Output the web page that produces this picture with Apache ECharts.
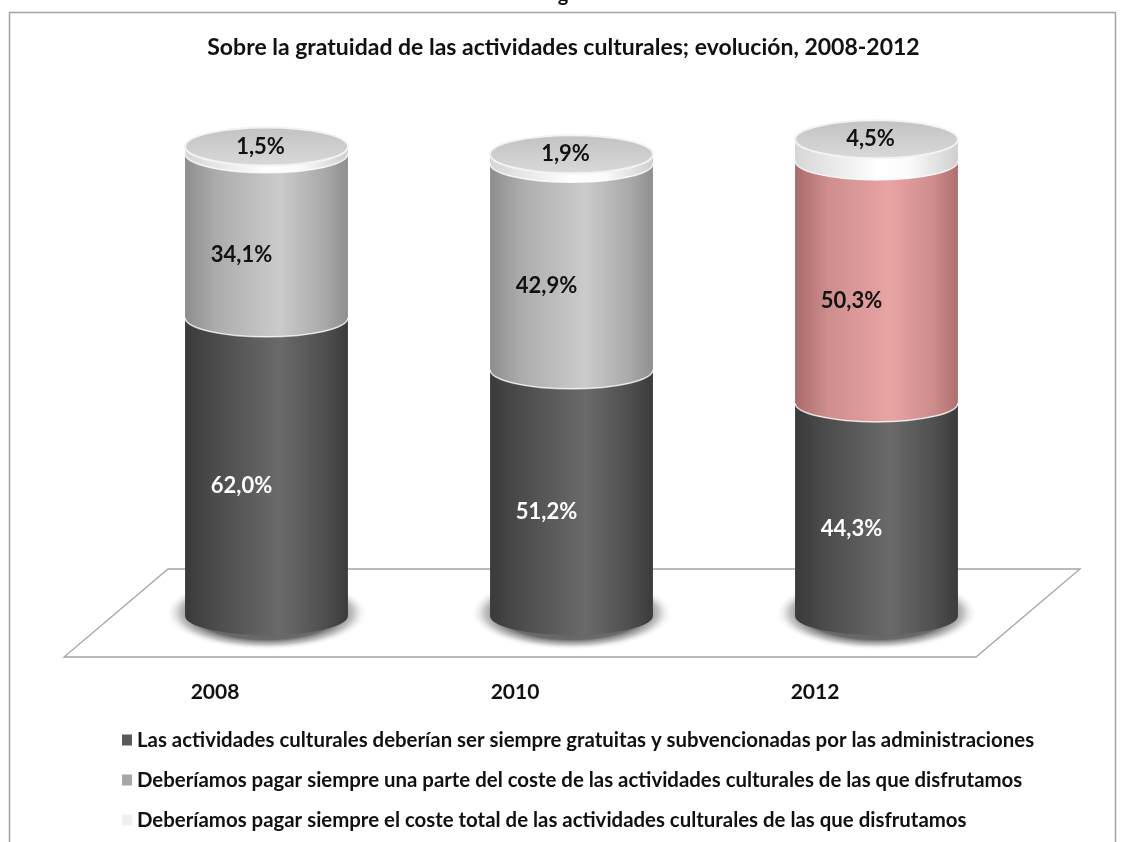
<!DOCTYPE html>
<html>
<head>
<meta charset="utf-8">
<script src="https://cdn.jsdelivr.net/npm/echarts@6/dist/echarts.min.js"></script>
<style>
  html, body { margin: 0; padding: 0; background: #ffffff; }
  #chart { width: 1127px; height: 842px; }
</style>
</head>
<body>
<div id="chart"></div>
<script>
// Survey years (categories)
const years = ['2008', '2010', '2012'];

// Answer options, bottom to top of each cylinder
const seriesNames = [
  'Las actividades culturales deberían ser siempre gratuitas y subvencionadas por las administraciones',
  'Deberíamos pagar siempre una parte del coste de las actividades culturales de las que disfrutamos',
  'Deberíamos pagar siempre el coste total de las actividades culturales de las que disfrutamos'
];

// Percentages per year
const gratuitas = [62.0, 51.2, 44.3];
const costeParcial = [34.1, 42.9, 50.3];
const costeTotal = [1.5, 1.9, 4.5];

const stacks = [gratuitas, costeParcial, costeTotal];

const FONT = "Lato, 'Open Sans', sans-serif";
const G = echarts.graphic;

function hGrad(stops) {
  return new G.LinearGradient(0, 0, 1, 0, stops.map((c) => ({ offset: c[0], color: c[1] })));
}

// Body shading per series (and the highlighted 2012 middle segment)
const bodyFill = [
  () => hGrad([[0, '#3a3a3a'], [0.18, '#4b4b4b'], [0.58, '#6a6a6a'], [0.85, '#505050'], [1, '#3b3b3b']]),
  () => hGrad([[0, '#8e8e8e'], [0.2, '#adadad'], [0.58, '#cbcbcb'], [0.85, '#aaaaaa'], [1, '#8f8f8f']]),
  () => hGrad([[0, '#d6d6d6'], [0.5, '#ffffff'], [0.7, '#fbfbfb'], [1, '#cfcfcf']])
];
const pinkFill = () => hGrad([[0, '#a86b6b'], [0.2, '#cf8d8d'], [0.58, '#e9a4a4'], [0.85, '#cf8c8c'], [1, '#ad6f6f']]);

const labelColor = ['#ffffff', '#111111', '#111111'];

function fmt(v) {
  return v.toFixed(1).replace('.', ',') + '%';
}

function makeRender(s) {
  return function (params, api) {
    const i = api.value(0);
    const v = api.value(1);
    let base = 0;
    for (let k = 0; k < s; k++) base += stacks[k][i];
    const top = base + v;
    const pA = api.coord([i, base]);
    const pB = api.coord([i, top]);
    const band = api.size([1, 0])[0];
    const rx = band * 0.267;
    const ry = rx * 0.233;
    const cx = pA[0];
    const yA = pA[1];
    const yB = pB[1];
    const children = [];

    if (s === 0) {
      // soft floor shadow around the base
      children.push({
        type: 'circle',
        x: cx, y: yA - 3,
        scaleX: (rx + 20) / 100, scaleY: (ry + 18) / 100,
        shape: { cx: 0, cy: 0, r: 100 },
        style: {
          fill: new G.RadialGradient(0.5, 0.5, 0.5, [
            { offset: 0, color: 'rgba(60,60,60,0.9)' },
            { offset: 0.72, color: 'rgba(80,80,80,0.85)' },
            { offset: 0.86, color: 'rgba(130,130,130,0.45)' },
            { offset: 1, color: 'rgba(255,255,255,0)' }
          ])
        },
        silent: true
      });
    }

    const path =
      'M' + (cx - rx) + ' ' + yB +
      ' L' + (cx - rx) + ' ' + yA +
      ' A' + rx + ' ' + ry + ' 0 0 0 ' + (cx + rx) + ' ' + yA +
      ' L' + (cx + rx) + ' ' + yB +
      ' A' + rx + ' ' + ry + ' 0 0 1 ' + (cx - rx) + ' ' + yB + ' Z';
    const fill = (s === 1 && i === 2) ? pinkFill() : bodyFill[s]();
    children.push({
      type: 'path',
      shape: { pathData: path },
      style: { fill: fill, stroke: null }
    });

    if (s > 0) {
      // thin highlight where two segments meet
      children.push({
        type: 'path',
        shape: {
          pathData: 'M' + (cx - rx) + ' ' + yA + ' A' + rx + ' ' + ry + ' 0 0 0 ' + (cx + rx) + ' ' + yA
        },
        style: { fill: null, stroke: 'rgba(255,255,255,0.75)', lineWidth: 1.5 }
      });
    }

    if (s === stacks.length - 1) {
      // top face
      children.push({
        type: 'ellipse',
        shape: { cx: cx, cy: yB, rx: rx, ry: ry },
        style: {
          fill: new G.LinearGradient(0, 0, 0, 1, [
            { offset: 0, color: '#c2c2c2' },
            { offset: 1, color: '#d9d9d9' }
          ]),
          stroke: '#f3f3f3',
          lineWidth: 2
        }
      });
      children.push({
        type: 'text',
        style: {
          text: fmt(v), x: cx - 6, y: yB,
          fill: labelColor[s], font: 'bold 22px ' + FONT,
          align: 'center', verticalAlign: 'middle'
        }
      });
    } else {
      children.push({
        type: 'text',
        style: {
          text: fmt(v), x: cx - 25, y: (yA + yB) / 2 + ry,
          fill: labelColor[s], font: 'bold 22px ' + FONT,
          align: 'center', verticalAlign: 'middle'
        }
      });
    }
    return { type: 'group', children: children };
  };
}

const legendColors = ['#595959', '#a6a6a6', '#f0f0f0'];

const option = {
  backgroundColor: '#ffffff',
  animation: false,
  color: legendColors,
  title: {
    text: 'Sobre la gratuidad de las actividades culturales; evolución, 2008-2012',
    left: 'center',
    top: 31,
    textStyle: { fontFamily: FONT, fontSize: 23, fontWeight: 'bold', color: '#111111' }
  },
  legend: {
    orient: 'vertical',
    left: 117,
    top: 725,
    itemWidth: 10,
    itemHeight: 11,
    itemGap: 20,
    icon: 'rect',
    selectedMode: false,
    textStyle: { fontFamily: FONT, fontSize: 20.4, fontWeight: 'bold', color: '#111111' },
    data: seriesNames
  },
  grid: [
    { left: 114, right: 98, top: 135, bottom: 226 },
    { left: 65, right: 162, top: 600, bottom: 166 }
  ],
  xAxis: [
    { type: 'category', data: years, gridIndex: 0, show: false },
    {
      type: 'category', data: years, gridIndex: 1,
      axisLine: { show: false }, axisTick: { show: false },
      axisLabel: { margin: 6, fontFamily: FONT, fontSize: 21, fontWeight: 'bold', color: '#111111' }
    }
  ],
  yAxis: [
    { type: 'value', min: 0, max: 100, gridIndex: 0, show: false },
    { type: 'value', gridIndex: 1, show: false }
  ],
  graphic: [
    {
      type: 'rect', z: -10,
      shape: { x: 9.5, y: 12.5, width: 1106, height: 900 },
      style: { fill: 'none', stroke: '#a3a3a3', lineWidth: 1.5 }
    },
    {
      type: 'text', z: -10,
      style: { text: 'g', x: 563, y: -5, font: 'bold 20px ' + FONT, fill: '#111', align: 'center', verticalAlign: 'middle' }
    },
    {
      type: 'polygon', z: -5,
      shape: { points: [[168, 569], [1080, 569], [976, 657], [64, 657]] },
      style: { fill: '#ffffff', stroke: '#a5a5a5', lineWidth: 1.3 }
    }
  ],
  series: seriesNames.map((name, s) => ({
    type: 'custom',
    name: name,
    xAxisIndex: 0,
    yAxisIndex: 0,
    itemStyle: { color: legendColors[s] },
    renderItem: makeRender(s),
    encode: { x: 0, y: 1 },
    data: years.map((y, i) => [i, stacks[s][i]])
  }))
};

const chart = echarts.init(document.getElementById('chart'), null, { renderer: 'canvas' });
chart.setOption(option);
</script>
</body>
</html>
